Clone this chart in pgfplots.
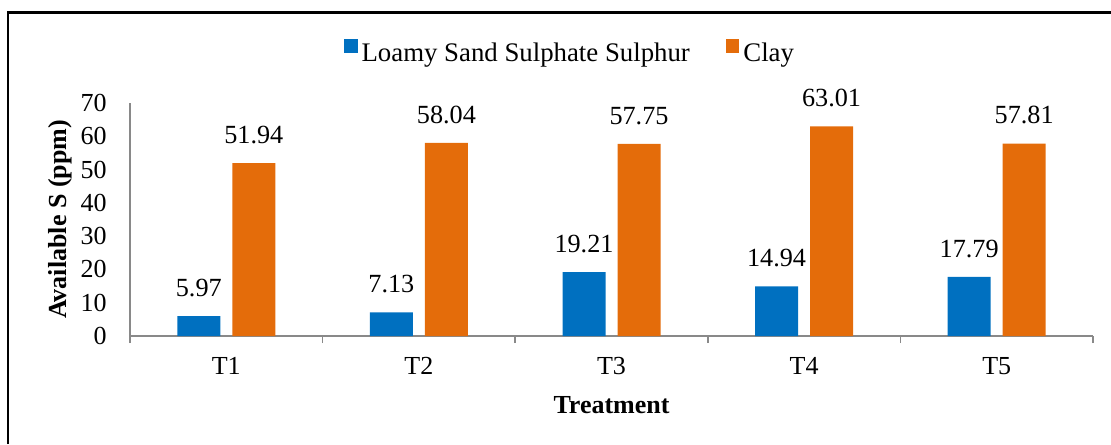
\documentclass[border=0pt]{standalone}
\usepackage{fontspec}
\setmainfont{Liberation Serif}
\usepackage{pgfplots}
\pgfplotsset{compat=1.18}
\definecolor{cblue}{HTML}{0070C0}
\definecolor{corange}{HTML}{E46C0A}
\definecolor{cgray}{HTML}{898989}
\begin{document}
\begin{tikzpicture}
\useasboundingbox (0,0) rectangle (555.5pt,222pt);
\draw[line width=1.1pt, line join=miter] (4pt,0) -- (4pt,215.75pt) -- (555.5pt,215.75pt);
\begin{axis}[
  at={(65pt,54pt)}, anchor=south west,
  scale only axis, width=481.5pt, height=116.5pt,
  xmin=-0.5, xmax=4.5, ymin=0, ymax=70,
  ytick={0,10,...,70},
  xtick={0,1,2,3,4}, xticklabels={T1,T2,T3,T4,T5},
  minor xtick={-0.5,0.5,1.5,2.5,3.5,4.5},
  axis x line*=bottom, axis y line*=left,
  axis line style={draw=cgray, line width=0.75pt},
  major tick length=0pt, minor tick length=3.5pt, tick align=outside,
  minor x tick style={draw=cgray, line width=0.75pt},
  major x tick style={draw=none},
  ytick style={draw=none},
  clip=false,
  font=\fontsize{13}{15}\selectfont,
  /pgf/number format/assume math mode=true,
  xticklabel style={anchor=base, inner sep=0pt, yshift=-19pt},
  yticklabel style={anchor=east, inner sep=0pt, xshift=-11.5pt},
  xlabel={\textbf{Treatment}}, ylabel={\textbf{Available S (ppm)}},
  xlabel style={at={(axis description cs:0.5,-0.3305)}, anchor=base, inner sep=0pt},
  ylabel style={at={(axis description cs:-0.0657,0.5)}, anchor=base, inner sep=0pt},
  ybar, bar width=21.5pt,
  nodes near coords={\pgfmathprintnumber[fixed,fixed zerofill,precision=2]{\pgfplotspointmeta}},
  nodes near coords style={anchor=south, inner sep=0pt, yshift=9.5pt, font=\fontsize{13.1}{15}\selectfont, text=black},
  legend columns=2,
  legend image code/.code={\fill[#1] (0pt,0.75pt) rectangle (6.75pt,7.5pt);},
  legend style={at={(axis description cs:0.458,1.2104)}, anchor=center, draw=none, fill=none,
    font=\fontsize{13.4}{15}\selectfont,
    /tikz/every even column/.append style={column sep=16pt}},
]
\addplot[fill=cblue, draw=none, bar shift=-13.75pt] coordinates {(0,5.97) (1,7.13) (2,19.21) (3,14.94) (4,17.79)};
\addplot[fill=corange, draw=none, bar shift=13.75pt] coordinates {(0,51.94) (1,58.04) (2,57.75) (3,63.01) (4,57.81)};
\legend{Loamy Sand Sulphate Sulphur, Clay}
\end{axis}
\end{tikzpicture}
\end{document}
